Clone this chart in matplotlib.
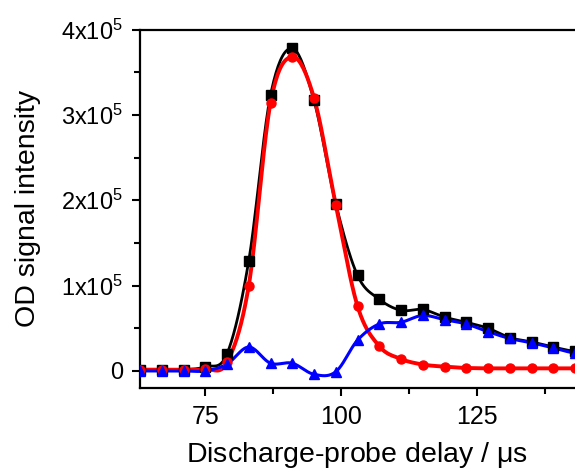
import numpy as np
import matplotlib
matplotlib.use("Agg")
import matplotlib.pyplot as plt
from matplotlib.ticker import FixedLocator, FuncFormatter

plt.rcParams['font.family'] = ['Liberation Sans', 'DejaVu Sans']
plt.rcParams['mathtext.fontset'] = 'custom'
plt.rcParams['mathtext.rm'] = 'Liberation Sans'
plt.rcParams['mathtext.it'] = 'Liberation Sans:italic'

delay = [63, 67, 71, 75, 79, 83, 87, 91, 95, 99, 103, 107, 111, 115, 119, 123, 127, 131, 135, 139, 143]
black = [1500, 1500, 1500, 5000, 20000, 129000, 323000, 378000, 317000, 196000, 112000, 84000,
         71000, 72000, 63000, 57000, 50000, 39000, 34000, 28000, 23000]
red = [1500, 1500, 1500, 2000, 10000, 100000, 314000, 368000, 320000, 195000, 76000, 29000,
       14000, 7500, 5000, 3500, 3000, 3000, 3000, 3000, 3000]
blue = [0, 0, 0, 0, 8000, 28000, 9000, 9000, -4000, -1000, 36000, 55000,
        57000, 65000, 60000, 55000, 46000, 38000, 33000, 27000, 21000]

yticks = [0, 100000, 200000, 300000, 400000]


def smooth(x, y, n=20):
    x = np.asarray(x, float)
    y = np.asarray(y, float)
    xs, ys = [], []
    for i in range(len(x) - 1):
        p0 = y[i - 1] if i > 0 else y[i]
        p1, p2 = y[i], y[i + 1]
        p3 = y[i + 2] if i + 2 < len(y) else y[i + 1]
        t = np.linspace(0, 1, n, endpoint=False)
        yy = 0.5 * ((2 * p1) + (-p0 + p2) * t + (2 * p0 - 5 * p1 + 4 * p2 - p3) * t ** 2
                    + (-p0 + 3 * p1 - 3 * p2 + p3) * t ** 3)
        xs.append(x[i] + (x[i + 1] - x[i]) * t)
        ys.append(yy)
    xs.append([x[-1]])
    ys.append([y[-1]])
    return np.concatenate(xs), np.concatenate(ys)


fig = plt.figure(figsize=(5.75, 4.7), dpi=100)
ax = fig.add_axes([0.2435, 0.1745, 0.7565, 0.7625])

for data, col, mk, ms, lw in [(black, 'black', 's', 6.5, 2.0),
                             (red, '#ff0000', 'o', 6.5, 2.8),
                             (blue, '#0000ff', '^', 7.5, 2.2)]:
    sx, sy = smooth(delay, data)
    ax.plot(sx, sy, color=col, lw=lw, zorder=2)
    ax.plot(delay, data, ls='none', marker=mk, ms=ms, color=col, zorder=3)

ax.set_xlim(63, 143)
ax.set_ylim(-20000, 400000)

ax.xaxis.set_major_locator(FixedLocator([75, 100, 125]))
ax.xaxis.set_minor_locator(FixedLocator([87.5, 112.5, 137.5]))
ax.yaxis.set_major_locator(FixedLocator(yticks))
ax.yaxis.set_minor_locator(FixedLocator([50000, 150000, 250000, 350000]))


def yfmt(v, pos):
    n = int(round(v / 1e5))
    if n == 0:
        return '0'
    return r'$\mathregular{%dx10^{5}}$' % n


ax.yaxis.set_major_formatter(FuncFormatter(yfmt))

ax.spines['right'].set_visible(False)
for s in ['left', 'bottom', 'top']:
    ax.spines[s].set_linewidth(1.6)

ax.tick_params(which='major', direction='out', length=6, width=1.5, labelsize=17, pad=6)
ax.tick_params(axis='x', which='major', labelsize=18)
ax.tick_params(which='minor', direction='out', length=4, width=1.5)
ax.tick_params(axis='y', which='both', right=False)
ax.tick_params(axis='x', which='both', top=False)

ax.set_xlabel('Discharge-probe delay / $\\mathregular{\\mu}$s', fontsize=20.5, labelpad=8)
ax.set_ylabel('OD signal intensity', fontsize=20.5, labelpad=15)

fig.savefig('out.png', dpi=100)
